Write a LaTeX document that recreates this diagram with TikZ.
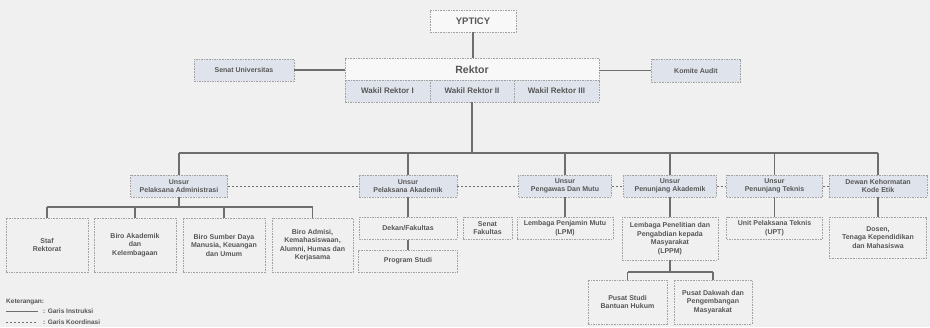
\documentclass[tikz,border=0pt]{standalone}
\usepackage{fontspec}
\setmainfont{Liberation Sans}
\begin{document}
\begin{tikzpicture}[x=1pt,y=-1pt,
  every node/.style={inner sep=1pt, align=center, text=txtc},
  basebox/.style={draw=bordc, line width=0.6pt, dash pattern=on 1.6pt off 1pt,
     font=\fontsize{7}{8.5}\selectfont\bfseries},
  lbox/.style={basebox, fill=bgc},
  ubox/.style={basebox, fill=bluec},
  wbox/.style={basebox, fill=whitec},
  conn/.style={draw=linec, line width=1.1pt},
  coord/.style={draw=linec, line width=0.8pt, dash pattern=on 2pt off 2pt},
  legtext/.style={font=\fontsize{6.5}{7.5}\selectfont\bfseries, anchor=west, inner sep=0pt}
]
\definecolor{bgc}{HTML}{F0F0F0}
\definecolor{bluec}{HTML}{DFE4EC}
\definecolor{whitec}{HTML}{F8F8F8}
\definecolor{bordc}{HTML}{A2A2A2}
\definecolor{linec}{HTML}{6E6E6E}
\definecolor{txtc}{HTML}{575757}
\fill[bgc] (0,0) rectangle (930,327);
\useasboundingbox (0,0) rectangle (930,327);

% top
\node[wbox, minimum width=86pt, minimum height=22pt, font=\fontsize{9.5}{11}\selectfont\bfseries] (yp) at (473,21) {YPTICY};
\node[wbox, minimum width=254pt, minimum height=21.5pt, font=\fontsize{10.5}{12}\selectfont\bfseries] (rek) at (472,69.3) {Rektor};
\node[ubox, minimum width=85pt, minimum height=22pt, font=\fontsize{8}{9}\selectfont\bfseries] (wr1) at (387.5,91) {Wakil Rektor I};
\node[ubox, minimum width=84pt, minimum height=22pt, font=\fontsize{8}{9}\selectfont\bfseries] (wr2) at (472,91) {Wakil Rektor II};
\node[ubox, minimum width=85pt, minimum height=22pt, font=\fontsize{8}{9}\selectfont\bfseries] (wr3) at (556.5,91) {Wakil Rektor III};
\node[ubox, minimum width=100pt, minimum height=22pt] (senat) at (244,70) {Senat Universitas};
\node[ubox, minimum width=89pt, minimum height=23pt] (komite) at (696,70.5) {Komite Audit};

% unsur row
\node[ubox, minimum width=97pt, minimum height=22pt] (adm) at (179,186) {Unsur\\Pelaksana Administrasi};
\node[ubox, minimum width=98pt, minimum height=22pt] (akd) at (408,186) {Unsur\\Pelaksana Akademik};
\node[ubox, minimum width=93pt, minimum height=22pt] (pgw) at (565,186) {Unsur\\Pengawas Dan Mutu};
\node[ubox, minimum width=93pt, minimum height=22pt] (pja) at (670,186) {Unsur\\Penunjang Akademik};
\node[ubox, minimum width=96pt, minimum height=22pt] (ptk) at (774.5,186) {Unsur\\Penunjang Teknis};
\node[ubox, minimum width=98pt, minimum height=22pt] (dkk) at (878,186) {Dewan Kehormatan\\Kode Etik};

% administrasi children
\node[lbox, minimum width=82pt, minimum height=54pt] (staf) at (47,245) {Staf\\Rektorat};
\node[lbox, minimum width=82pt, minimum height=54pt] (biro1) at (135,245) {Biro Akademik\\dan\\Kelembagaan};
\node[lbox, minimum width=82pt, minimum height=54pt] (biro2) at (224,245) {Biro Sumber Daya\\Manusia, Keuangan\\dan Umum};
\node[lbox, minimum width=81pt, minimum height=54pt] (biro3) at (312.5,245) {Biro Admisi,\\Kemahasiswaan,\\Alumni, Humas dan\\Kerjasama};

% akademik children
\node[lbox, minimum width=98pt, minimum height=21.5pt] (dekan) at (408,228.5) {Dekan/Fakultas};
\node[lbox, minimum width=99pt, minimum height=22pt] (prodi) at (408,261) {Program Studi};
\node[lbox, minimum width=49pt, minimum height=22pt] (senatf) at (487.5,228) {Senat\\Fakultas};

% other children
\node[lbox, minimum width=96pt, minimum height=22pt] (lpm) at (565,228) {Lembaga Penjamin Mutu\\(LPM)};
\node[lbox, minimum width=96pt, minimum height=43pt] (lppm) at (670,238.5) {Lembaga Penelitian dan\\Pengabdian kepada\\Masyarakat\\(LPPM)};
\node[lbox, minimum width=96pt, minimum height=22pt] (upt) at (774.5,228) {Unit Pelaksana Teknis\\(UPT)};
\node[lbox, minimum width=97pt, minimum height=41pt] (dosen) at (878,237.5) {Dosen,\\Tenaga Kependidikan\\dan Mahasiswa};
\node[lbox, minimum width=79pt, minimum height=44pt] (pus1) at (627.5,302) {Pusat Studi\\Bantuan Hukum};
\node[lbox, minimum width=78pt, minimum height=44pt] (pus2) at (713,302) {Pusat Dakwah dan\\Pengembangan\\Masyarakat};

% connectors top
\draw[conn] (yp.south) -- (yp.south |- rek.north);
\draw[conn] (senat.east) -- (senat.east -| rek.west);
\draw[conn] (komite.west) -- (komite.west -| rek.east);
\coordinate (bar) at (472,153);
\draw[conn] (wr2.south) -- (bar);
\draw[conn] (adm.north |- bar) -- (dkk.north |- bar);
\foreach \n in {adm,akd,pgw,pja,ptk,dkk} { \draw[conn] (\n.north |- bar) -- (\n.north); }

% coordination lines
\draw[coord] (adm.east) -- (akd.west);
\draw[coord] (akd.east) -- (pgw.west);
\draw[coord] (pgw.east) -- (pja.west);
\draw[coord] (pja.east) -- (ptk.west);
\draw[coord] (ptk.east) -- (dkk.west);

% administrasi subtree
\coordinate (admbar) at (179,207);
\draw[conn] (adm.south) -- (admbar);
\draw[conn] (staf.north |- admbar) -- (biro3.north |- admbar);
\foreach \n in {staf,biro1,biro2,biro3} { \draw[conn] (\n.north |- admbar) -- (\n.north); }

% akademik subtree
\draw[conn] (akd.south) -- (dekan.north);
\draw[conn] (dekan.south) -- (prodi.north);

% others
\draw[conn] (pgw.south) -- (lpm.north);
\draw[conn] (pja.south) -- (lppm.north);
\draw[conn] (ptk.south) -- (upt.north);
\draw[conn] (dkk.south) -- (dosen.north);

% lppm subtree
\coordinate (lpbar) at (670,272);
\draw[conn] (lppm.south) -- (lpbar);
\draw[conn] (pus1.north |- lpbar) -- (pus2.north |- lpbar);
\draw[conn] (pus1.north |- lpbar) -- (pus1.north);
\draw[conn] (pus2.north |- lpbar) -- (pus2.north);

% legend
\node[legtext] (ket) at (6,302) {Keterangan:};
\coordinate (l1a) at (6,311);
\coordinate (l1b) at (38,311);
\coordinate (l2a) at (6,322);
\coordinate (l2b) at (38,322);
\draw[draw=linec, line width=0.7pt] (l1a) -- (l1b);
\draw[draw=linec, line width=0.7pt, dash pattern=on 2pt off 2pt] (l2a) -- (l2b);
\node[legtext] (g1) at (43,311) {: Garis Instruksi};
\node[legtext] (g2) at (43,322) {: Garis Koordinasi};
\end{tikzpicture}
\end{document}
